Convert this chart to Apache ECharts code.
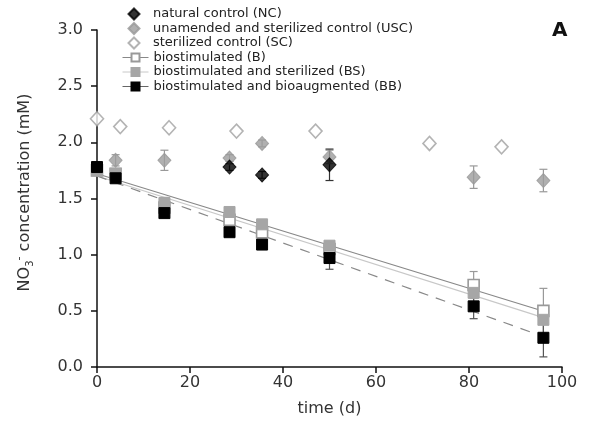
<!DOCTYPE html>
<html><head><meta charset="utf-8">
<script src="https://cdn.jsdelivr.net/npm/echarts@6/dist/echarts.min.js"></script>
<style>html,body{margin:0;padding:0;background:#fff}#c{width:594px;height:436px}</style>
</head><body><div id="c"></div>
<script>
// ---- data (time in days, NO3- in mM) ----
const daysNC = [28.5, 35.5, 50];
const valNC = [1.78, 1.71, 1.80];
const errNC = [0.03, 0.03, 0.14];

const daysUSC = [4, 14.5, 28.5, 35.5, 50, 81, 96];
const valUSC = [1.84, 1.84, 1.86, 1.99, 1.87, 1.69, 1.66];
const errUSC = [0.05, 0.09, 0.03, 0.03, 0.06, 0.1, 0.1];

const daysSC = [0, 5, 15.5, 30, 47, 71.5, 87];
const valSC = [2.21, 2.14, 2.13, 2.10, 2.10, 1.99, 1.96];

const daysB = [0, 4, 14.5, 28.5, 35.5, 50, 81, 96];
const valB = [1.75, 1.72, 1.42, 1.31, 1.20, 1.05, 0.73, 0.50];
const errB = [0, 0.03, 0.03, 0.03, 0.03, 0.04, 0.12, 0.2];

const daysBS = [0, 4, 14.5, 28.5, 35.5, 50, 81, 96];
const valBS = [1.75, 1.72, 1.46, 1.38, 1.27, 1.08, 0.66, 0.42];
const errBS = [0, 0.03, 0.05, 0.04, 0.03, 0.04, 0.1, 0.12];

const daysBB = [0, 4, 14.5, 28.5, 35.5, 50, 81, 96];
const valBB = [1.78, 1.68, 1.37, 1.20, 1.09, 0.97, 0.54, 0.26];
const errBB = [0, 0.03, 0.03, 0.03, 0.03, 0.1, 0.11, 0.17];

// regression line end points
const fitB = [[0, 1.72], [95, 0.51]];
const fitBS = [[0, 1.70], [96, 0.44]];
const fitBB = [[0, 1.70], [94, 0.30]];

const xTicks = [0, 20, 40, 60, 80, 100];
const yTicks = [0, 0.5, 1.0, 1.5, 2.0, 2.5, 3.0];

const names = [
  'natural control (NC)',
  'unamended and sterilized control (USC)',
  'sterilized control (SC)',
  'biostimulated (B)',
  'biostimulated and sterilized (BS)',
  'biostimulated and bioaugmented (BB)'
];

function pts(d, v) { return d.map((x, i) => [x, v[i]]); }
function errs(d, v, e) { return d.map((x, i) => [x, v[i] - e[i], v[i] + e[i]]).filter((r, i) => e[i] > 0); }

function errSeries(data, color, z) {
  return {
    type: 'custom', silent: true, z: z,
    data: data,
    encode: { x: 0, y: [1, 2] },
    renderItem: function (params, api) {
      const x = api.value(0);
      const lo = api.coord([x, api.value(1)]);
      const hi = api.coord([x, api.value(2)]);
      const w = 4;
      const st = { stroke: color, lineWidth: 1.2, fill: null };
      return { type: 'group', children: [
        { type: 'line', shape: { x1: lo[0], y1: lo[1], x2: hi[0], y2: hi[1] }, style: st },
        { type: 'line', shape: { x1: lo[0] - w, y1: lo[1], x2: lo[0] + w, y2: lo[1] }, style: st },
        { type: 'line', shape: { x1: hi[0] - w, y1: hi[1], x2: hi[0] + w, y2: hi[1] }, style: st }
      ]};
    }
  };
}

const chart = echarts.init(document.getElementById('c'));
const font = '"DejaVu Sans", Verdana, sans-serif';
const legText = { fontSize: 13, color: '#222', fontFamily: font };
chart.setOption({
  animation: false,
  backgroundColor: '#fff',
  textStyle: { fontFamily: font },
  grid: { left: 97, right: 32, top: 30, bottom: 69 },
  legend: [
    {
      orient: 'vertical', left: 122.5, top: 2.5,
      itemWidth: 11, itemHeight: 11, itemGap: 1.5,
      textStyle: Object.assign({ padding: [0, 0, 0, 8.5] }, legText),
      data: [names[0], names[1], names[2]]
    },
    {
      orient: 'vertical', left: 117, top: 46,
      itemWidth: 26, itemHeight: 10, itemGap: 1.5,
      textStyle: Object.assign({}, legText),
      data: [
        { name: names[3], lineStyle: { opacity: 1, width: 1, color: '#888' } },
        { name: names[4], lineStyle: { opacity: 1, width: 1, color: '#c8c8c8' } },
        { name: names[5], lineStyle: { opacity: 1, width: 1, color: '#666' } }
      ]
    }
  ],
  xAxis: {
    type: 'value', min: 0, max: 100, interval: 20,
    name: 'time (d)', nameLocation: 'middle', nameGap: 34,
    nameTextStyle: { fontSize: 16, color: '#333', fontFamily: font },
    axisLine: { lineStyle: { color: '#111', width: 1.5 } },
    axisTick: { length: 6, lineStyle: { color: '#111', width: 1.5 } },
    axisLabel: { fontSize: 16, color: '#333', margin: 8, fontFamily: font,
      formatter: v => xTicks.includes(v) ? String(v) : '' },
    splitLine: { show: false }
  },
  yAxis: {
    type: 'value', min: 0, max: 3, interval: 0.5,
    name: 'NO{sub|3}{sup|-} concentration (mM)', nameLocation: 'middle', nameGap: 61,
    nameTextStyle: { fontSize: 16, color: '#333', fontFamily: font, padding: [0, 0, 0, 12],
      rich: {
        sub: { fontSize: 10, color: '#333', padding: [11, 0, 0, 0], fontFamily: font },
        sup: { fontSize: 11, color: '#333', padding: [0, 0, 11, 0], fontFamily: font }
      } },
    axisLine: { show: true, lineStyle: { color: '#111', width: 1.5 } },
    axisTick: { show: true, length: 6, lineStyle: { color: '#111', width: 1.5 } },
    axisLabel: { fontSize: 16, color: '#333', margin: 14, fontFamily: font,
      formatter: v => yTicks.some(t => Math.abs(t - v) < 1e-9) ? v.toFixed(1) : '' },
    splitLine: { show: false }
  },
  graphic: [
    { type: 'text', left: 552, top: 21, style: { text: 'A', font: 'bold 20px ' + font, fill: '#111' } }
  ],
  series: [
    // regression lines
    { type: 'line', data: fitBS, symbol: 'none', silent: true, z: 1, lineStyle: { color: '#c8c8c8', width: 1.2 } },
    { type: 'line', data: fitB, symbol: 'none', silent: true, z: 1, lineStyle: { color: '#888', width: 1.2 } },
    { type: 'line', data: fitBB, symbol: 'none', silent: true, z: 1, lineStyle: { color: '#888', width: 1.2, type: [10, 8] } },
    // error bars
    errSeries(errs(daysUSC, valUSC, errUSC), '#999', 2),
    errSeries(errs(daysNC, valNC, errNC), '#333', 2),
    errSeries(errs(daysB, valB, errB), '#999', 2),
    errSeries(errs(daysBS, valBS, errBS), '#aaa', 2),
    errSeries(errs(daysBB, valBB, errBB), '#555', 2),
    // points
    { name: names[1], type: 'scatter', data: pts(daysUSC, valUSC), symbol: 'diamond', symbolSize: [13, 14], z: 3,
      itemStyle: { color: '#9c9c9c', borderColor: '#999', borderWidth: 1 } },
    { name: names[0], type: 'scatter', data: pts(daysNC, valNC), symbol: 'diamond', symbolSize: [13, 14], z: 4,
      itemStyle: { color: '#000', borderColor: '#000', borderWidth: 1 } },
    { name: names[2], type: 'scatter', data: pts(daysSC, valSC), symbol: 'diamond', symbolSize: [13, 14], z: 3,
      itemStyle: { color: '#fff', borderColor: '#a0a0a0', borderWidth: 1.6 } },
    { name: names[3], type: 'line', data: pts(daysB, valB), symbol: 'rect', symbolSize: 11, z: 4,
      lineStyle: { opacity: 0, width: 0 },
      itemStyle: { color: '#fff', borderColor: '#999', borderWidth: 1.6 } },
    { name: names[4], type: 'line', data: pts(daysBS, valBS), symbol: 'rect', symbolSize: 11, z: 5,
      lineStyle: { opacity: 0, width: 0 },
      itemStyle: { color: '#a6a6a6', borderColor: '#a6a6a6', borderWidth: 1 } },
    { name: names[5], type: 'line', data: pts(daysBB, valBB), symbol: 'rect', symbolSize: 11, z: 6,
      lineStyle: { opacity: 0, width: 0 },
      itemStyle: { color: '#000', borderColor: '#000', borderWidth: 1 } }
  ]
});
</script>
</body></html>
